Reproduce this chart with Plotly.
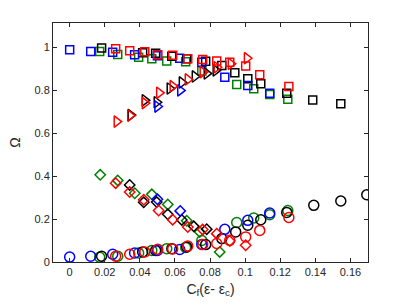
import plotly.graph_objects as go

# ---------------- data ----------------
# Blue set
blue_x = [0.0, 0.012, 0.0245, 0.037, 0.050, 0.0627, 0.0753, 0.0884, 0.1015, 0.114]
blue_sq = [0.988, 0.980, 0.977, 0.965, 0.961, 0.949, 0.930, 0.860, 0.822, 0.786]
blue_ci = [0.023, 0.027, 0.036, 0.042, 0.054, 0.058, 0.082, 0.152, 0.194, 0.228]
blue_tx = [0.050, 0.063]
blue_tr = [0.724, 0.799]
blue_di = [0.292, 0.238]

# Black set
black_sq_x = [0.0182, 0.0416, 0.049, 0.0582, 0.0667, 0.0775, 0.0867, 0.0941, 0.1015, 0.1089, 0.1237, 0.1385, 0.1545]
black_sq = [0.997, 0.975, 0.972, 0.958, 0.947, 0.935, 0.915, 0.881, 0.853, 0.830, 0.786, 0.755, 0.737]
black_ci_x = [0.0182, 0.0416, 0.049, 0.0582, 0.0667, 0.0775, 0.0867, 0.0946, 0.1015, 0.1089, 0.1237, 0.1391, 0.1545, 0.1693]
black_ci = [0.027, 0.047, 0.054, 0.062, 0.070, 0.081, 0.109, 0.140, 0.171, 0.197, 0.231, 0.264, 0.284, 0.313]
black_tr_x = [0.0348, 0.0428, 0.0496, 0.057, 0.0639, 0.0713, 0.0781, 0.0832]
black_tr = [0.684, 0.753, 0.744, 0.808, 0.836, 0.864, 0.878, 0.892]
black_di_x = [0.0342, 0.0422, 0.0496, 0.0559, 0.0639, 0.0707, 0.0781]
black_di = [0.359, 0.278, 0.279, 0.222, 0.196, 0.166, 0.153]

# Green set
green_sq_x = [0.0171, 0.0274, 0.0393, 0.0468, 0.0553, 0.0661, 0.0753, 0.0952, 0.1049, 0.114, 0.1243]
green_sq = [0.980, 0.966, 0.954, 0.946, 0.936, 0.933, 0.889, 0.827, 0.807, 0.780, 0.758]
green_ci_x = [0.0171, 0.0274, 0.0393, 0.0468, 0.0553, 0.0661, 0.0753, 0.0952, 0.1049, 0.114, 0.1243]
green_ci = [0.022, 0.027, 0.042, 0.054, 0.062, 0.068, 0.100, 0.184, 0.205, 0.220, 0.240]
green_di_x = [0.0174, 0.0274, 0.0371, 0.0468, 0.0559, 0.0667, 0.0741, 0.0855]
green_di = [0.406, 0.380, 0.320, 0.315, 0.268, 0.192, 0.140, 0.047]

# Red set
red_x = [0.0262, 0.0342, 0.0428, 0.0502, 0.0587, 0.0673, 0.0758, 0.0838, 0.0912, 0.1003, 0.1083, 0.1249]
red_sq = [0.993, 0.984, 0.979, 0.965, 0.963, 0.947, 0.943, 0.936, 0.930, 0.913, 0.872, 0.817]
red_ci = [0.027, 0.036, 0.047, 0.059, 0.061, 0.074, 0.082, 0.086, 0.101, 0.117, 0.147, 0.207]
red_tr_x = [0.0268, 0.0345, 0.0428, 0.0510, 0.0587, 0.0673, 0.0758, 0.0838, 0.0918, 0.1010]
red_tr = [0.654, 0.682, 0.740, 0.788, 0.819, 0.850, 0.884, 0.907, 0.923, 0.949]
red_di_x = [0.0262, 0.0342, 0.0422, 0.0507, 0.0587, 0.0673, 0.0758, 0.0838, 0.0912, 0.1003]
red_di = [0.367, 0.326, 0.290, 0.240, 0.197, 0.163, 0.151, 0.132, 0.098, 0.078]

x_ticks = [0, 0.02, 0.04, 0.06, 0.08, 0.1, 0.12, 0.14, 0.16]
x_ticklabels = ["0", "0.02", "0.04", "0.06", "0.08", "0.1", "0.12", "0.14", "0.16"]
y_ticks = [0, 0.2, 0.4, 0.6, 0.8, 1]
y_ticklabels = ["0", "0.2", "0.4", "0.6", "0.8", "1"]

# ---------------- figure ----------------
GREEN = "#008000"
BLACK = "#000000"
BLUE = "#0000FF"
RED = "#FF0000"

fig = go.Figure()

def add(x, y, symbol, color, size):
    fig.add_trace(go.Scatter(
        x=x, y=y, mode="markers",
        marker=dict(symbol=symbol, size=size, color=color,
                    line=dict(color=color, width=1.5)),
        showlegend=False, hoverinfo="skip"))

SQ, CI, DI, TR = 8, 10, 8, 10

# green
add(green_sq_x, green_sq, "square-open", GREEN, SQ)
add(green_ci_x, green_ci, "circle-open", GREEN, CI)
add(green_di_x, green_di, "diamond-open", GREEN, DI)
# black
add(black_sq_x, black_sq, "square-open", BLACK, SQ)
add(black_ci_x, black_ci, "circle-open", BLACK, CI)
add(black_tr_x, black_tr, "triangle-right-open", BLACK, TR)
add(black_di_x, black_di, "diamond-open", BLACK, DI)
# blue
add(blue_x, blue_sq, "square-open", BLUE, SQ)
add(blue_x, blue_ci, "circle-open", BLUE, CI)
add(blue_tx, blue_tr, "triangle-right-open", BLUE, TR)
add(blue_tx, blue_di, "diamond-open", BLUE, DI)
# red
add(red_x, red_sq, "square-open", RED, SQ)
add(red_x, red_ci, "circle-open", RED, CI)
add(red_tr_x, red_tr, "triangle-right-open", RED, TR)
add(red_di_x, red_di, "diamond-open", RED, DI)

axis_common = dict(
    showline=True, linecolor="#262626", linewidth=1, mirror="ticks",
    ticks="inside", ticklen=4, tickcolor="#262626", tickwidth=1,
    showgrid=False, zeroline=False,
    tickfont=dict(family="Liberation Sans, Arial", size=11, color="#262626"),
)

fig.update_layout(
    width=407, height=306,
    margin=dict(l=53, r=39, t=23, b=44),
    paper_bgcolor="white", plot_bgcolor="white",
    xaxis=dict(range=[-0.0095, 0.17], tickvals=x_ticks, ticktext=x_ticklabels,
               title=dict(text="C<sub>f</sub>(ε- ε<sub>c</sub>)",
                          font=dict(family="Liberation Sans, Arial", size=14, color="#262626"),
                          standoff=6),
               **axis_common),
    yaxis=dict(range=[0, 1.113], tickvals=y_ticks, ticktext=y_ticklabels,
               title=dict(text="Ω",
                          font=dict(family="Liberation Sans, Arial", size=14, color="#262626"),
                          standoff=10),
               **axis_common),
)

fig.write_html(
    "out.html",
    config={"displayModeBar": False},
    post_script="document.body.style.margin='0';document.body.style.padding='0';",
)
